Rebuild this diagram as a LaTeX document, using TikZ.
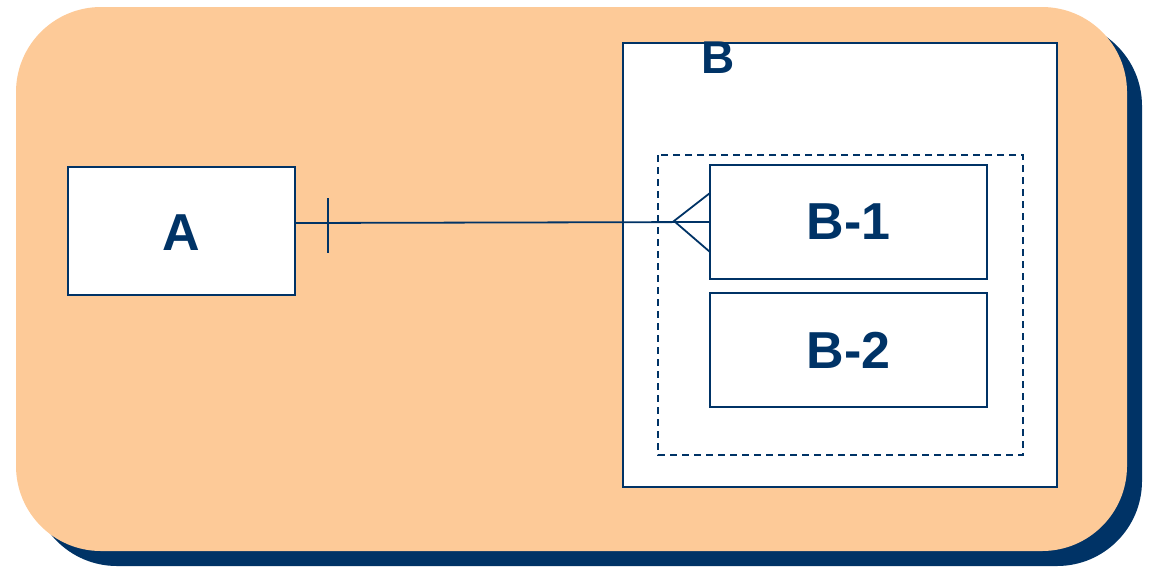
\documentclass[tikz,border=0pt]{standalone}
\usepackage{fontspec}
\setmainfont{Liberation Sans}
\definecolor{navy}{HTML}{003366}
\definecolor{peach}{HTML}{FDCA98}
\begin{document}
\begin{tikzpicture}[x=1pt,y=-1pt,
  box/.style={draw=navy,line width=1.8pt,fill=white},
  lbl/.style={text=navy,font=\fontsize{52}{52}\selectfont\bfseries},
  conn/.style={draw=navy,line width=1.8pt}]
\useasboundingbox (0,0) rectangle (1155,566);
% shadow and background
\fill[navy,rounded corners=85pt] (32,21) rectangle (1142,566);
\fill[peach,rounded corners=85pt] (16,7) rectangle (1127,551);
% boxes
\draw[box] (623,43) rectangle (1057,487);
\node[text=navy,font=\fontsize{46}{46}\selectfont\bfseries] (Blbl) at (718.5,57.5) {B};
\draw[draw=navy,line width=1.8pt,dash pattern=on 7pt off 5pt] (658,155) rectangle (1023,455);
\path[box] (68,167) rectangle (295,295);
\node[lbl] (A) at (181.5,233) {A};
\coordinate (Ar) at (295,223);
\path[box] (710,165) rectangle (987,279);
\node[lbl] (B1) at (848.5,222) {B-1};
\coordinate (B1l) at (710,222);
\path[box] (710,293) rectangle (987,407);
\node[lbl] (B2) at (848.5,350) {B-2};
% connector
\draw[conn] (Ar) -- (B1l);
\draw[conn] (328,198) -- (328,253);
\draw[conn] (710,193) -- (674,221) -- (710,252);
\end{tikzpicture}
\end{document}
